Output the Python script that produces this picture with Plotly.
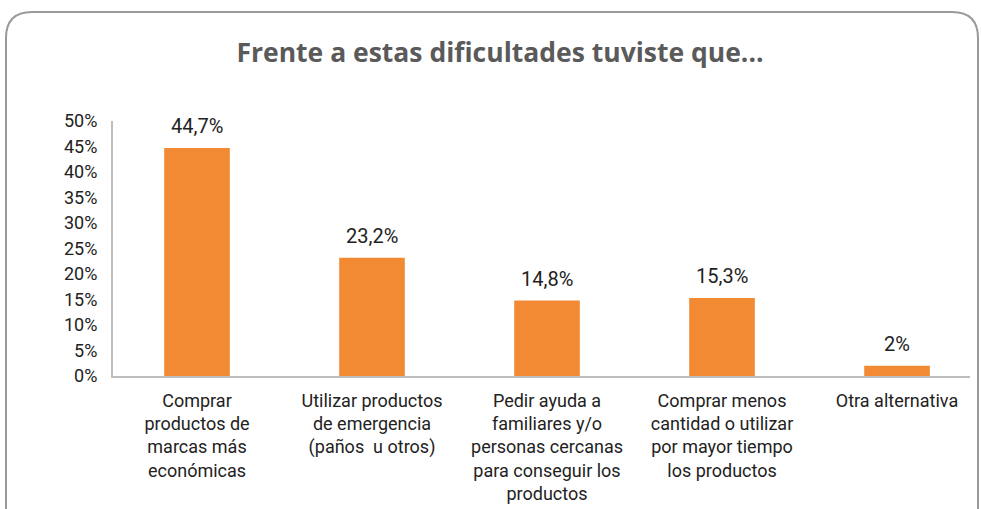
import plotly.graph_objects as go

categories = [
    "Comprar<br>productos de<br>marcas más<br>económicas",
    "Utilizar productos<br>de emergencia<br>(paños  u otros)",
    "Pedir ayuda a<br>familiares y/o<br>personas cercanas<br>para conseguir los<br>productos",
    "Comprar menos<br>cantidad o utilizar<br>por mayor tiempo<br>los productos",
    "Otra alternativa",
]
values = [44.7, 23.2, 14.8, 15.3, 2.0]
value_labels = ["44,7%", "23,2%", "14,8%", "15,3%", "2%"]
y_ticks = [0, 5, 10, 15, 20, 25, 30, 35, 40, 45, 50]
y_ticktext = [f"{v}%" for v in y_ticks]

W, H = 981, 509
L, R, T, B = 113, 11, 121, 133
pw, ph = W - L - R, H - T - B

x_idx = list(range(len(categories)))

fig = go.Figure(go.Bar(
    x=x_idx, y=values, marker=dict(color="#F28A33", line=dict(width=0)),
    width=0.375, hoverinfo="skip",
))

for xi, v, t in zip(x_idx, values, value_labels):
    fig.add_annotation(x=xi, y=v, text=t, showarrow=False, yanchor="bottom",
                       yshift=8, font=dict(family="Roboto", size=20, color="#222222"))

def px2x(p):
    return (p - L) / pw
def py2y(p):
    return (H - B - p) / ph

x0, x1, y0, y1, r = 6, 978, 12, 540, 26
path = (f"M {px2x(x0+r)},{py2y(y0)} L {px2x(x1-r)},{py2y(y0)} "
        f"Q {px2x(x1)},{py2y(y0)} {px2x(x1)},{py2y(y0+r)} "
        f"L {px2x(x1)},{py2y(y1)} L {px2x(x0)},{py2y(y1)} "
        f"L {px2x(x0)},{py2y(y0+r)} Q {px2x(x0)},{py2y(y0)} {px2x(x0+r)},{py2y(y0)} Z")
fig.add_shape(type="path", xref="paper", yref="paper", path=path,
              line=dict(color="#9a9a9a", width=2), fillcolor="rgba(0,0,0,0)", layer="below")

fig.update_layout(
    width=W, height=H,
    margin=dict(l=L, r=R, t=T, b=B, autoexpand=False),
    paper_bgcolor="white", plot_bgcolor="white",
    showlegend=False,
    title=dict(text="<b>Frente a estas dificultades tuviste que...</b>",
               x=px2x(500), xref="paper", xanchor="center", y=1 - 53 / H, yanchor="middle",
               font=dict(family="Open Sans", size=26.5, color="#5a5a5a")),
    xaxis=dict(range=[-0.48, 4.417], tickmode="array", tickvals=x_idx, ticktext=categories,
               showgrid=False, zeroline=False, showline=True, linecolor="#bdbdbd", linewidth=2,
               ticks="outside", ticklen=7, tickcolor="rgba(0,0,0,0)",
               tickfont=dict(family="Roboto", size=18, color="#222222")),
    yaxis=dict(range=[0, 50], tickmode="array", tickvals=y_ticks, ticktext=y_ticktext,
               showgrid=False, zeroline=False, showline=True, linecolor="#bdbdbd", linewidth=2,
               ticks="outside", ticklen=10, tickcolor="rgba(0,0,0,0)",
               tickfont=dict(family="Roboto", size=18, color="#222222")),
)

fig.write_html("out.html", post_script="document.body.style.margin='0';",
               config={"displayModeBar": False})
